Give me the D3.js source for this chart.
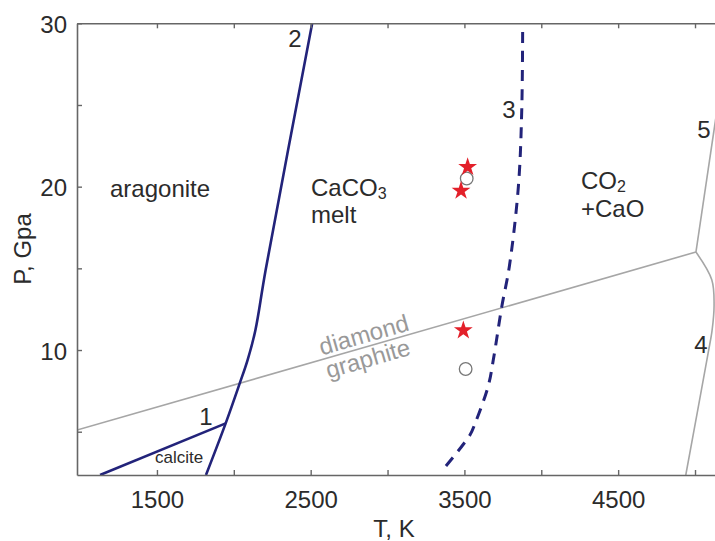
<!DOCTYPE html>
<html>
<head>
<meta charset="utf-8">
<script src="https://cdn.jsdelivr.net/npm/d3@7"></script>
<style>
  body { margin: 0; background: #fff; }
  svg { display: block; font-family: Arial, "Liberation Sans", sans-serif; }
  .tick-lbl { font-size: 24px; fill: #2b2b2b; }
  .field { font-size: 24px; fill: #2b2b2b; }
</style>
</head>
<body>
<div class="graph"></div>
<script>
// phase boundaries, T in K, P in GPa
const line1T = [1130, 1947];
const line1P = [2.35, 5.51];
const line2T = [1819, 1947, 2040, 2090, 2140, 2207, 2510];
const line2P = [2.35, 5.51, 8.0, 9.4, 11.2, 14.9, 30];
const line3T = [3380, 3536, 3569, 3655, 3688, 3743, 3792, 3851, 3873, 3879];
const line3P = [2.9, 4.8, 5.5, 7.8, 9.4, 12.65, 15.1, 20.0, 24.7, 30];
const line4T = [5006, 5109, 5124, 5111, 5085, 4940];
const line4P = [16.0, 14.3, 12.76, 11.2, 9.8, 2.35];
const line5T = [5006, 5140];
const line5P = [16.0, 24.5];
const dgT = [980, 5006];
const dgP = [5.1, 16.0];

// experiment points
const starT = [3521, 3478, 3493];
const starP = [21.2, 19.75, 11.2];
const circT = [3515, 3508];
const circP = [20.5, 8.84];

const xTicks = [1500, 2000, 2500, 3000, 3500, 4000, 4500, 5000];
const xLabels = [1500, 2500, 3500, 4500];
const yTicks = [5, 10, 15, 20, 25, 30];
const yLabels = [10, 20, 30];

const w = 715, h = 541;
const mLeft = 77, mRight = 715, mTop = 23.3, mBottom = 475;

const xScale = d3.scaleLinear().domain([980, 5130]).range([mLeft, mRight]);
const yScale = d3.scaleLinear().domain([2.35, 30]).range([mBottom, mTop]);

const svg = d3.select(".graph").append("svg")
  .attr("width", w).attr("height", h);

const zip = (T, P) => T.map((t, i) => [t, P[i]]);
const line = d3.line().x(d => xScale(d[0])).y(d => yScale(d[1]));
const smooth = d3.line().x(d => xScale(d[0])).y(d => yScale(d[1])).curve(d3.curveCatmullRom.alpha(0.5));

svg.append("clipPath").attr("id", "plot")
  .append("rect").attr("x", mLeft).attr("y", mTop).attr("width", mRight - mLeft + 5).attr("height", mBottom - mTop);

const plot = svg.append("g").attr("clip-path", "url(#plot)");

// grey lines
const grey = "#a6a6a6";
plot.append("path").attr("d", line(zip(dgT, dgP))).attr("fill", "none").attr("stroke", grey).attr("stroke-width", 1.6);
plot.append("path").attr("d", line(zip(line5T, line5P))).attr("fill", "none").attr("stroke", grey).attr("stroke-width", 1.6);
plot.append("path").attr("d", smooth(zip(line4T, line4P))).attr("fill", "none").attr("stroke", grey).attr("stroke-width", 1.6);

// navy lines
const navy = "#22237a";
plot.append("path").attr("d", line(zip(line1T, line1P))).attr("fill", "none").attr("stroke", navy).attr("stroke-width", 2.6);
plot.append("path").attr("d", smooth(zip(line2T, line2P))).attr("fill", "none").attr("stroke", navy).attr("stroke-width", 2.6);
plot.append("path").attr("d", smooth(zip(line3T, line3P))).attr("fill", "none").attr("stroke", navy)
  .attr("stroke-width", 3).attr("stroke-dasharray", "11,8");

// axes frame
const axisCol = "#666";
const xAxis = d3.axisBottom(xScale).tickValues(xTicks).tickSize(-5).tickSizeOuter(0)
  .tickFormat(d => xLabels.includes(d) ? d : "").tickPadding(10);
const xTop = d3.axisTop(xScale).tickValues(xTicks).tickSize(-5).tickSizeOuter(0).tickFormat("");
const yAxis = d3.axisLeft(yScale).tickValues(yTicks).tickSize(-5).tickSizeOuter(0)
  .tickFormat(d => yLabels.includes(d) ? d : "").tickPadding(10);

function style(g) {
  g.select(".domain").attr("stroke", axisCol).attr("stroke-width", 1.6);
  g.selectAll(".tick line").attr("stroke", axisCol).attr("stroke-width", 1.4);
  g.selectAll(".tick text").attr("class", "tick-lbl").attr("font-size", null).attr("font-family", null).attr("fill", null);
  g.attr("font-size", null).attr("font-family", null);
}

svg.append("g").attr("transform", "translate(0," + mBottom + ")").call(xAxis).call(style)
  .selectAll(".tick text").attr("dy", "0.95em");
svg.append("g").attr("transform", "translate(0," + mTop + ")").call(xTop).call(style);
svg.append("g").attr("transform", "translate(" + mLeft + ",0)").call(yAxis).call(style)
  .selectAll(".tick text").attr("dy", "0.38em");

// markers
svg.selectAll("circle.exp").data(zip(circT, circP)).enter().append("circle")
  .attr("class", "exp")
  .attr("cx", d => xScale(d[0])).attr("cy", d => yScale(d[1])).attr("r", 6.3)
  .attr("fill", "#fff").attr("stroke", "#777").attr("stroke-width", 1.3);

svg.selectAll("path.star").data(zip(starT, starP)).enter().append("path")
  .attr("class", "star")
  .attr("d", d3.symbol(d3.symbolStar, 110))
  .attr("transform", d => "translate(" + xScale(d[0]) + "," + yScale(d[1]) + ")")
  .attr("fill", "#e3202a");

// diamond / graphite labels along the line
const p0 = [xScale(dgT[0]), yScale(dgP[0])], p1 = [xScale(dgT[1]), yScale(dgP[1])];
const ang = Math.atan2(p1[1] - p0[1], p1[0] - p0[0]) * 180 / Math.PI;
const dgAt = 2580;
const dgY = yScale(dgP[0] + (dgAt - dgT[0]) * (dgP[1] - dgP[0]) / (dgT[1] - dgT[0]));
const dg = svg.append("g").attr("transform", "translate(" + xScale(dgAt) + "," + dgY + ") rotate(" + ang + ")");
dg.append("text").attr("class", "field").attr("y", -4).style("fill", "#999").text("diamond");
dg.append("text").attr("class", "field").attr("y", 20).style("fill", "#999").text("graphite");

// field labels
svg.append("text").attr("class", "field").attr("x", 110).attr("y", 197).text("aragonite");
const caco = svg.append("text").attr("class", "field").attr("x", 311).attr("y", 196);
caco.append("tspan").text("CaCO");
caco.append("tspan").attr("font-size", 16).attr("dy", 3).text("3");
svg.append("text").attr("class", "field").attr("x", 311).attr("y", 223).text("melt");
const co2 = svg.append("text").attr("class", "field").attr("x", 581).attr("y", 189);
co2.append("tspan").text("CO");
co2.append("tspan").attr("font-size", 16).attr("dy", 3).text("2");
svg.append("text").attr("class", "field").attr("x", 581).attr("y", 217).text("+CaO");
svg.append("text").attr("class", "field").attr("x", 155).attr("y", 463).style("font-size", "17px").text("calcite");

// line numbers
const nums = [["1", 206, 425], ["2", 295, 47], ["3", 509, 118], ["4", 701, 353], ["5", 704, 138]];
svg.selectAll("text.num").data(nums).enter().append("text")
  .attr("class", "field").attr("text-anchor", "middle")
  .attr("x", d => d[1]).attr("y", d => d[2]).text(d => d[0]);

// axis titles
svg.append("text").attr("class", "field").attr("text-anchor", "middle")
  .attr("x", 394).attr("y", 537).text("T, K");
svg.append("text").attr("class", "field").attr("text-anchor", "middle")
  .attr("transform", "translate(31,249) rotate(-90)").text("P, Gpa");
</script>
</body>
</html>
